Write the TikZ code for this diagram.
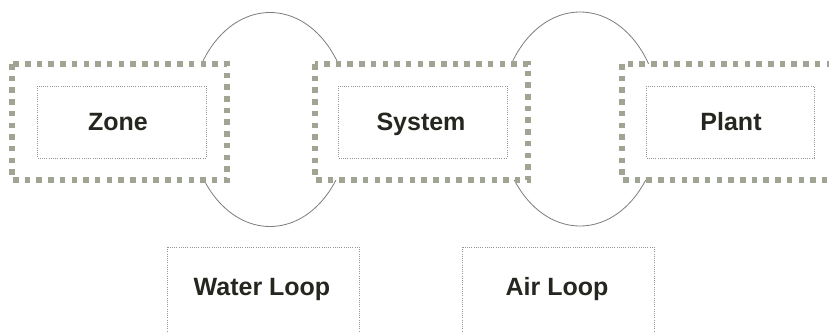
\documentclass[tikz,border=0pt]{standalone}
\usepackage{fontspec}
\setmainfont{Liberation Sans}
\usetikzlibrary{shapes.geometric}
\definecolor{outergreen}{RGB}{160,164,146}
\definecolor{innergray}{RGB}{150,150,150}
\definecolor{loopgray}{RGB}{125,125,125}
\definecolor{txt}{RGB}{38,38,32}
\begin{document}
\begin{tikzpicture}[x=1pt,y=-1pt,
  outerbox/.style={draw=outergreen, fill=white, line width=5.5pt, dash pattern=on 5.5pt off 6.2pt},
  innerbox/.style={draw=innergray, line width=0.9pt, dash pattern=on 0.9pt off 1.3pt},
  label/.style={font=\fontsize{25}{30}\selectfont\bfseries, text=txt, anchor=base, inner sep=0pt},
  loop/.style={draw=loopgray, line width=0.8pt, ellipse, minimum width=160pt, minimum height=214pt, inner sep=0pt}]
\useasboundingbox (0,0) rectangle (829,332);
\fill[white] (0,0) rectangle (829,332);
% loops behind the boxes
\node[loop] (loopA) at (270,119.5) {};
\node[loop] (loopB) at (580,119) {};
% outer boxes
\draw[outerbox] (12,64) rectangle (227,180);
\draw[outerbox] (315,64) rectangle (528,180);
\draw[outerbox] (622,64) rectangle (845,180);
% inner boxes
\draw[innerbox] (37,86) rectangle (206,158);
\draw[innerbox] (338,86) rectangle (507,158);
\draw[innerbox] (646,86) rectangle (814,158);
\draw[innerbox] (167,247) rectangle (359,345);
\draw[innerbox] (462,247) rectangle (654,345);
% labels
\node[label] (zone) at (118,130) {Zone};
\node[label] (system) at (421,130) {System};
\node[label] (plant) at (731,130) {Plant};
\node[label] (water) at (262,295) {Water Loop};
\node[label] (air) at (557,295) {Air Loop};
\end{tikzpicture}
\end{document}
